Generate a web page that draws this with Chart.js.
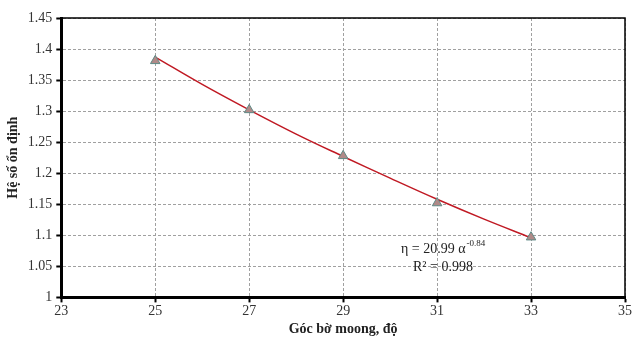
<!DOCTYPE html>
<html>
<head>
<meta charset="utf-8">
<script src="https://cdn.jsdelivr.net/npm/chart.js@4"></script>
<style>
  body { margin: 0; background: #fff; }
  #wrap { width: 633px; height: 341px; }
</style>
</head>
<body>
<div id="wrap"><canvas id="mycanvas"></canvas></div>
<script>
// measured points
const angles = [25, 27, 29, 31, 33];
const safety = [1.381, 1.302, 1.228, 1.152, 1.097];

// fitted power trend line
const trendX = [25, 26, 27, 28, 29, 30, 31, 32, 33];
const trendY = [1.387, 1.343, 1.302, 1.263, 1.227, 1.192, 1.158, 1.126, 1.096];

const xTicks = [23, 25, 27, 29, 31, 33, 35];
const yTicks = [1, 1.05, 1.1, 1.15, 1.2, 1.25, 1.3, 1.35, 1.4, 1.45];

const serif = "'Liberation Serif', 'Times New Roman', serif";

const frame = {
  id: 'frame',
  afterDraw(chart) {
    const { ctx, chartArea: a } = chart;
    ctx.save();
    ctx.strokeStyle = '#000';
    ctx.lineWidth = 1.5;
    ctx.beginPath();
    ctx.moveTo(a.left, a.top);
    ctx.lineTo(a.right, a.top);
    ctx.lineTo(a.right, a.bottom);
    ctx.stroke();

    // equation label
    ctx.fillStyle = '#222';
    ctx.font = "14px " + serif;
    ctx.textBaseline = 'alphabetic';
    const x0 = 401, y0 = 253;
    let t = 'η = 20.99 α';
    ctx.fillText(t, x0, y0);
    let w = ctx.measureText(t).width;
    ctx.font = "9px " + serif;
    ctx.fillText('-0.84', x0 + w + 1, y0 - 7);
    ctx.font = "14px " + serif;
    ctx.fillText('R² = 0.998', 413, 271);
    ctx.restore();
  }
};

const data = {
  datasets: [
    {
      label: 'Trend',
      data: trendX.map((x, i) => ({ x: x, y: trendY[i] })),
      showLine: true,
      borderColor: '#c01a24',
      borderWidth: 1.5,
      pointRadius: 0,
      tension: 0.4,
      order: 2,
    },
    {
      label: 'Data',
      data: angles.map((x, i) => ({ x: x, y: safety[i] })),
      pointStyle: 'triangle',
      pointRadius: 5.5,
      backgroundColor: '#b08a88',
      borderColor: '#5f8a86',
      borderWidth: 1,
      order: 1,
    },
  ],
};

const gridOpts = {
  color: '#a0a0a0',
  tickBorderDash: [],
  tickColor: '#000',
  tickWidth: 2,
  tickLength: 5,
};

let chartOptions = {
  responsive: true,
  maintainAspectRatio: false,
  animation: false,
  layout: { padding: { top: 18, right: 4, left: 5, bottom: 3 } },
  plugins: { legend: { display: false }, tooltip: { enabled: false } },
  scales: {
    x: {
      type: 'linear',
      min: 23,
      max: 35,
      afterBuildTicks: (s) => { s.ticks = xTicks.map(v => ({ value: v })); },
      grid: gridOpts,
      border: { color: '#000', width: 3, dash: [3, 2] },
      ticks: {
        color: '#333', font: { family: serif, size: 14 }, padding: 1, maxRotation: 0,
        callback: (v) => String(v),
      },
      title: {
        display: true,
        text: 'Góc bờ moong, độ',
        color: '#222',
        font: { family: serif, size: 14, weight: 'bold' },
        padding: { top: 0, bottom: 0 },
      },
    },
    y: {
      min: 1,
      max: 1.45,
      afterBuildTicks: (s) => { s.ticks = yTicks.map(v => ({ value: v })); },
      grid: gridOpts,
      border: { color: '#000', width: 3, dash: [3, 2] },
      ticks: {
        color: '#333', font: { family: serif, size: 14 }, padding: 4,
        callback: (v) => String(v),
      },
      title: {
        display: true,
        text: 'Hệ số ổn định',
        color: '#222',
        font: { family: serif, size: 14, weight: 'bold' },
        padding: { top: 0, bottom: 2 },
      },
    },
  },
};

new Chart(document.getElementById('mycanvas'), {
  type: 'scatter',
  data: data,
  options: chartOptions,
  plugins: [frame],
});
</script>
</body>
</html>
